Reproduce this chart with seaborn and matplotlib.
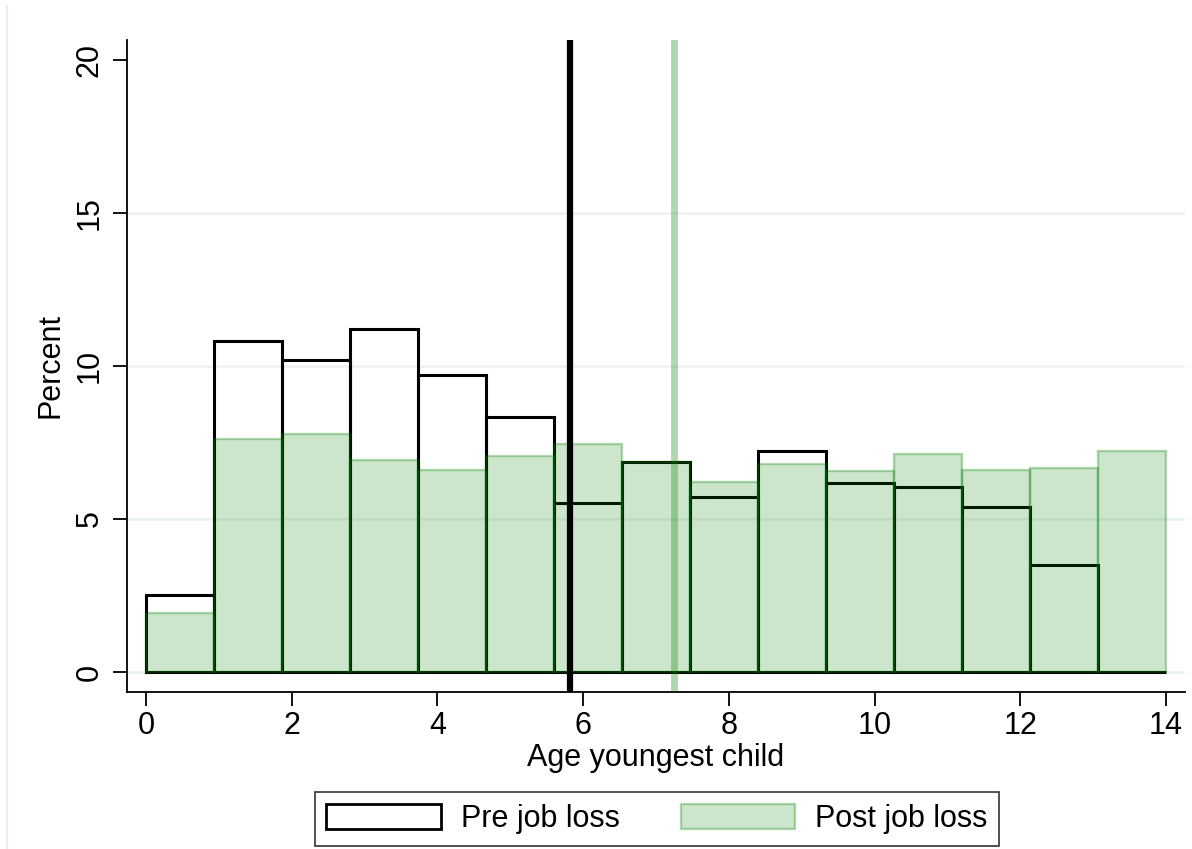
import numpy as np
import pandas as pd
import seaborn as sns
import matplotlib.pyplot as plt
from matplotlib.patches import Patch
from matplotlib.lines import Line2D

# ---- data ----
age_min, age_max, n_bins = 0, 14, 15
pre_pct = [2.52, 10.82, 10.20, 11.20, 9.71, 8.33, 5.53, 6.85, 5.72, 7.21, 6.19, 6.04, 5.40, 3.50, 0.0]
post_pct = [1.94, 7.60, 7.77, 6.93, 6.59, 7.06, 7.44, 6.85, 6.20, 6.80, 6.57, 7.12, 6.60, 6.68, 7.21]
pre_mean = 5.82
post_mean = 7.25
series_labels = ["Pre job loss", "Post job loss"]
x_ticks = [0, 2, 4, 6, 8, 10, 12, 14]
y_ticks = [0, 5, 10, 15, 20]
x_label = "Age youngest child"
y_label = "Percent"

edges = np.linspace(age_min, age_max, n_bins + 1)
mids = (edges[:-1] + edges[1:]) / 2
df = pd.DataFrame({
    "age": np.concatenate([mids, mids]),
    "pct": np.concatenate([pre_pct, post_pct]),
    "group": [series_labels[0]] * n_bins + [series_labels[1]] * n_bins,
})

sns.set_style("white")
plt.rcParams["font.family"] = ["Liberation Sans", "DejaVu Sans"]
plt.rcParams["text.color"] = "black"
plt.rcParams["axes.labelcolor"] = "black"
plt.rcParams["xtick.color"] = "black"
plt.rcParams["ytick.color"] = "black"

FS = 22

fig = plt.figure(figsize=(11.92, 8.49), dpi=100)
ax = fig.add_axes([127 / 1192, 1 - 692 / 849, (1185 - 127) / 1192, (692 - 40) / 849])

green = (0.0, 0.5, 0.0)
fill_rgba = (*green, 0.2)
edge_rgba = (*green, 0.3)

sns.histplot(data=df[df.group == series_labels[0]], x="age", weights="pct",
             bins=n_bins, binrange=(age_min, age_max), fill=False,
             element="bars", color="black", linewidth=2.2, ax=ax)
for p in ax.patches:
    p.set_edgecolor("black")
sns.histplot(data=df[df.group == series_labels[1]], x="age", weights="pct",
             bins=n_bins, binrange=(age_min, age_max), element="bars", ax=ax,
             linewidth=1.7, facecolor=fill_rgba, edgecolor=edge_rgba)

ax.axvline(pre_mean, color="black", linewidth=4.5, zorder=5)
ax.axvline(post_mean, color=green, alpha=0.3, linewidth=5, zorder=5)

ax.set_xlim(-0.26, 14.26)
ax.set_ylim(-0.65, 20.65)
ax.set_xticks(x_ticks)
ax.set_yticks(y_ticks)
ax.set_yticklabels([str(v) for v in y_ticks], rotation=90, va="center")
ax.tick_params(axis="both", labelsize=FS, length=10, width=1.3, direction="out",
               color="black", labelcolor="black", bottom=True, left=True)
ax.tick_params(axis="y", pad=6)
ax.tick_params(axis="x", pad=4)
ax.set_xlabel(x_label, fontsize=FS, labelpad=1)
ax.set_ylabel(y_label, fontsize=FS, labelpad=7)

ax.grid(axis="y", color="#eaf2f3", linewidth=1.8)
ax.set_axisbelow(True)
# no gridline at the top tick (as in the reference)
ax.yaxis.get_gridlines()[-1].set_visible(False)
for s in ["top", "right"]:
    ax.spines[s].set_visible(False)
for s in ["left", "bottom"]:
    ax.spines[s].set_color("black")
    ax.spines[s].set_linewidth(1.3)

handles = [
    Patch(facecolor="white", edgecolor="black", linewidth=2.0),
    Patch(facecolor=fill_rgba, edgecolor=edge_rgba, linewidth=1.7),
]
leg = fig.legend(handles, series_labels, loc="lower center", ncol=2,
                 bbox_to_anchor=(0.551, 0.004), fontsize=FS, frameon=True,
                 fancybox=False, edgecolor="black", handlelength=3.75,
                 handleheight=0.88, columnspacing=2.0, handletextpad=0.65,
                 borderpad=0.38, borderaxespad=0.0)
leg.get_frame().set_linewidth(1.2)

# faint outer graph-region line on the left
fig.add_artist(Line2D([6.5 / 1192, 6.5 / 1192], [0, 1 - 6 / 849],
                      transform=fig.transFigure, color="#e3eef0", linewidth=1.5))

fig.savefig("out.png", dpi=100)
